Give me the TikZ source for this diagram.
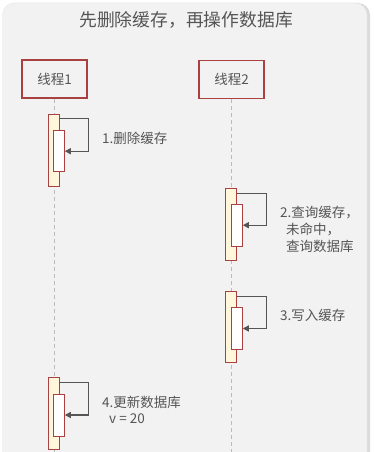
\documentclass[tikz,border=0pt]{standalone}
\usepackage{fontspec}
\setmainfont{Noto Sans CJK SC}
\usetikzlibrary{arrows.meta}
\definecolor{bggray}{HTML}{F2F2F2}
\definecolor{edgered}{HTML}{A8413F}
\definecolor{actfill}{HTML}{FFF6DC}
\definecolor{txtgray}{HTML}{555555}
\definecolor{linegray}{HTML}{BBBBBB}
\tikzset{
  threadbox/.style={draw=edgered, line width=1.3pt, fill=bggray, minimum width=65pt, minimum height=38pt, inner sep=0pt, font=\fontsize{13.5}{16}\selectfont, text=txtgray},
  outeract/.style={draw=edgered, line width=0.9pt, fill=actfill, minimum width=11pt, inner sep=0pt},
  inneract/.style={draw=edgered, line width=0.9pt, fill=white, minimum width=11pt, inner sep=0pt},
  lifeline/.style={draw=linegray, line width=1pt, dash pattern=on 4pt off 3pt},
  msg/.style={draw=txtgray, line width=1.1pt, -{Triangle[length=6pt,width=6pt]}},
  lbl/.style={text=txtgray, inner sep=0pt, anchor=west, font=\fontsize{13.5}{17}\selectfont, align=left},
}
\begin{document}
\begin{tikzpicture}[x=1pt,y=-1pt]
\useasboundingbox (0,0) rectangle (374,452);
\fill[white] (0,0) rectangle (374,452);
% background panel with shadow
\fill[black!14, rounded corners=12pt] (4.5,3) rectangle (370,480);
\filldraw[fill=bggray, draw=black!10, rounded corners=12pt] (2.5,3) rectangle (367,480);
% title
\node[text=txtgray, font=\fontsize{17.8}{20}\selectfont] (title) at (186,20) {先删除缓存，再操作数据库};
% threads
\node[threadbox] (t1) at (54.5,79) {线程1};
\node[threadbox] (t2) at (231.5,79.5) {线程2};
\coordinate (e1) at (54.5,452);
\coordinate (e2) at (231.5,452);
\draw[lifeline] (t1.south) -- (e1);
\draw[lifeline] (t2.south) -- (e2);
% activation 1
\node[outeract, minimum height=72pt] (o1) at (53.5,150) {};
\node[inneract, minimum height=41pt] (i1) at (58.8,151.2) {};
\draw[msg] ([yshift=-5.3pt]o1.north east) -- ++(29,0) |- (i1.east);
\node[lbl] (l1) at (102,138) {1.删除缓存};
% activation 2
\node[outeract, minimum height=71.7pt] (o2) at (231.3,224.2) {};
\node[inneract, minimum height=41.7pt] (i2) at (236.8,225.2) {};
\draw[msg] ([yshift=-5.7pt]o2.north east) -- ++(29,0) |- (i2.east);
\node[lbl] (l2) at (280,229) {2.查询缓存，\\\hspace{6pt}未命中，\\\hspace{6pt}查询数据库};
% activation 3
\node[outeract, minimum height=71.7pt] (o3) at (231.3,326.9) {};
\node[inneract, minimum height=41.6pt] (i3) at (236.8,328.5) {};
\draw[msg] ([yshift=-5.7pt]o3.north east) -- ++(29,0) |- (i3.east);
\node[lbl] (l3) at (280,315) {3.写入缓存};
% activation 4
\node[outeract, minimum height=72pt] (o4) at (53.5,413.3) {};
\node[inneract, minimum height=42pt] (i4) at (58.8,415) {};
\draw[msg] ([yshift=-6pt]o4.north east) -- ++(29,0) |- (i4.east);
\node[lbl] (l4) at (102,402) {4.更新数据库};
\node[lbl] (l4b) at (109,418.3) {v = 20};
\end{tikzpicture}
\end{document}
